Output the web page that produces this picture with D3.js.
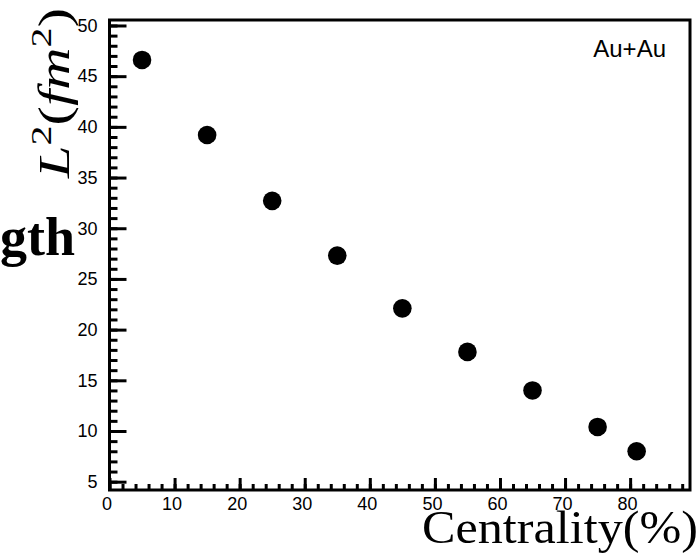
<!DOCTYPE html>
<html>
<head>
<meta charset="utf-8">
<script src="https://cdn.jsdelivr.net/npm/d3@7"></script>
<style>
  html, body { margin: 0; padding: 0; background: #fff; }
  svg { display: block; }
</style>
</head>
<body>
<svg id="chart" width="699" height="554"></svg>
<script>
// ---- data ----
const centrality = [5, 15, 25, 35, 45, 55, 65, 75, 81];
const L2 = [46.6, 39.2, 32.7, 27.3, 22.1, 17.8, 14.0, 10.4, 8.0];
const xTicks = [0, 10, 20, 30, 40, 50, 60, 70, 80];
const yTicks = [5, 10, 15, 20, 25, 30, 35, 40, 45, 50];
const xMinor = d3.range(0, 90, 2);
const yMinor = d3.range(5, 51, 1);
const xDomain = [0, 89.2];
const yDomain = [4.18, 50.54];

const svg = d3.select("#chart");
const mLeft = 109.5, mRight = 690, mTop = 20, mBottom = 490;

const x = d3.scaleLinear().domain(xDomain).range([mLeft, mRight]);
const y = d3.scaleLinear().domain(yDomain).range([mBottom, mTop]);

const tickFont = "'Liberation Sans', Arial, Helvetica, sans-serif";

// minor ticks
const yMin = svg.append("g").attr("transform", `translate(${mLeft},0)`)
  .call(d3.axisLeft(y).tickValues(yMinor).tickSizeInner(-8).tickSizeOuter(0).tickFormat(""));
const xMin = svg.append("g").attr("transform", `translate(0,${mBottom})`)
  .call(d3.axisBottom(x).tickValues(xMinor).tickSizeInner(-6).tickSizeOuter(0).tickFormat(""));

// major ticks
const yAx = svg.append("g").attr("transform", `translate(${mLeft},0)`)
  .call(d3.axisLeft(y).tickValues(yTicks).tickSizeInner(-17).tickSizeOuter(0).tickPadding(12).tickFormat(d3.format("d")));
const xAx = svg.append("g").attr("transform", `translate(0,${mBottom})`)
  .call(d3.axisBottom(x).tickValues(xTicks).tickSizeInner(-12).tickSizeOuter(0).tickPadding(7).tickFormat(d3.format("d")));

[yMin, xMin, yAx, xAx].forEach(g => {
  g.select(".domain").remove();
  g.selectAll("line").attr("stroke", "#000").attr("stroke-width", 3);
  g.selectAll("text").attr("font-family", tickFont).attr("font-size", 18).attr("fill", "#000");
});
xAx.selectAll("text").attr("dx", "-3");

// frame
svg.append("rect")
  .attr("x", mLeft).attr("y", mTop)
  .attr("width", mRight - mLeft).attr("height", mBottom - mTop)
  .attr("fill", "none").attr("stroke", "#000").attr("stroke-width", 3);

// points
svg.append("g").selectAll("circle")
  .data(centrality.map((c, i) => [c, L2[i]]))
  .join("circle")
  .attr("cx", d => x(d[0]))
  .attr("cy", d => y(d[1]))
  .attr("r", 9.3)
  .attr("fill", "#000");

// legend text
svg.append("text")
  .attr("x", 666).attr("y", 57)
  .attr("text-anchor", "end")
  .attr("font-family", tickFont)
  .attr("font-size", 24)
  .text("Au+Au");

// x title
svg.append("text")
  .attr("x", 698).attr("y", 543)
  .attr("text-anchor", "end")
  .attr("font-family", "'Liberation Serif', 'Times New Roman', serif")
  .attr("font-size", 46)
  .attr("textLength", 276)
  .attr("lengthAdjust", "spacingAndGlyphs")
  .text("Centrality(%)");

// y title
const yt = svg.append("text")
  .attr("transform", "translate(69,178) rotate(-90)")
  .attr("font-family", "'Liberation Serif', 'Times New Roman', serif")
  .attr("font-size", 44)
  .attr("textLength", 170)
  .attr("lengthAdjust", "spacingAndGlyphs");
yt.append("tspan").attr("font-style", "italic").text("L");
yt.append("tspan").attr("font-size", 30).attr("dy", -18).text("2");
yt.append("tspan").attr("dy", 18).text("(");
yt.append("tspan").attr("font-style", "italic").text("fm");
yt.append("tspan").attr("font-size", 30).attr("dy", -18).text("2");
yt.append("tspan").attr("dy", 18).text(")");

// clipped remnant title
svg.append("text")
  .attr("x", 75).attr("y", 255)
  .attr("text-anchor", "end")
  .attr("font-family", "'Liberation Serif', 'Times New Roman', serif")
  .attr("font-weight", "bold")
  .attr("font-size", 54)
  .text("gth");
</script>
</body>
</html>
